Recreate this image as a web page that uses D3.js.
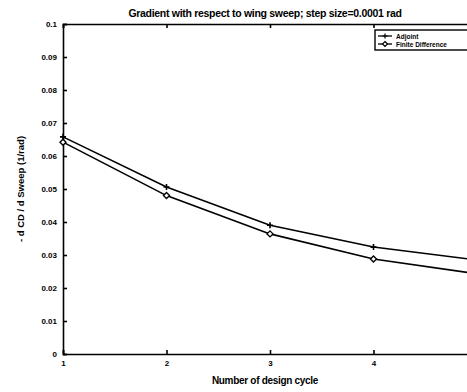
<!DOCTYPE html>
<html>
<head>
<meta charset="utf-8">
<script src="https://cdn.jsdelivr.net/npm/d3@7"></script>
<style>
  body { margin: 0; background: #fff; }
  svg { font-family: "Liberation Sans", Arial, sans-serif; font-weight: bold; }
  .axis path, .axis line { stroke: #000; stroke-width: 1.6; }
  .axis text { font-size: 8px; fill: #000; }
</style>
</head>
<body>
<div id="host"></div>
<script>
// design cycles and gradient values
const cycles = [1, 2, 3, 4, 5];
const adjoint = [0.0658, 0.0506, 0.0390, 0.0324, 0.0285];
const finiteDiff = [0.0642, 0.0480, 0.0364, 0.0288, 0.0243];
const yTicks = [0, 0.01, 0.02, 0.03, 0.04, 0.05, 0.06, 0.07, 0.08, 0.09, 0.1];
const xTicks = [1, 2, 3, 4];

const width = 467, height = 392;
const margin = { top: 24, right: -10, bottom: 38, left: 63 };
const w = width - margin.left - margin.right;
const h = height - margin.top - margin.bottom;

const svg = d3.select('#host').append('svg')
  .attr('width', width).attr('height', height);

const g = svg.append('g').attr('transform', `translate(${margin.left},${margin.top})`);

const x = d3.scaleLinear().domain([1, 5]).range([0, w]);
const y = d3.scaleLinear().domain([0, 0.1]).range([h, 0]);

// frame + ticks
g.append('g').attr('class', 'axis').attr('transform', `translate(0,${h})`)
  .call(d3.axisBottom(x).tickValues(xTicks).tickSize(-4).tickPadding(6).tickFormat(d3.format('d')));
g.append('g').attr('class', 'axis')
  .call(d3.axisTop(x).tickValues(xTicks).tickSize(-4).tickFormat(''));
g.append('g').attr('class', 'axis')
  .call(d3.axisLeft(y).tickValues(yTicks).tickSize(-4).tickPadding(6).tickFormat(d => d === 0 ? '0' : d3.format('.2~f')(d)));

const line = d3.line().x((d, i) => x(cycles[i])).y(d => y(d));

g.append('path').datum(adjoint).attr('d', line)
  .attr('fill', 'none').attr('stroke', '#000').attr('stroke-width', 1.6);
g.append('path').datum(finiteDiff).attr('d', line)
  .attr('fill', 'none').attr('stroke', '#000').attr('stroke-width', 1.6);

// markers
g.selectAll('.m-adj').data(adjoint).enter().append('path')
  .attr('class', 'm-adj')
  .attr('transform', (d, i) => `translate(${x(cycles[i])},${y(d)})`)
  .attr('d', 'M-3,0H3M0,-3V3')
  .attr('stroke', '#000').attr('stroke-width', 1.6);
g.selectAll('.m-fd').data(finiteDiff).enter().append('path')
  .attr('class', 'm-fd')
  .attr('transform', (d, i) => `translate(${x(cycles[i])},${y(d)})`)
  .attr('d', 'M0,-3L3,0L0,3L-3,0Z')
  .attr('fill', '#fff').attr('stroke', '#000').attr('stroke-width', 1.4);

// legend
const lg = svg.append('g').attr('transform', 'translate(375,30)');
lg.append('rect').attr('width', 100).attr('height', 20)
  .attr('fill', '#fff').attr('stroke', '#000').attr('stroke-width', 1.4);
const entries = [
  { label: 'Adjoint', d: 'M-2.5,0H2.5M0,-2.5V2.5', fill: 'none' },
  { label: 'Finite Difference', d: 'M0,-2.5L2.5,0L0,2.5L-2.5,0Z', fill: '#fff' },
];
entries.forEach((e, i) => {
  const yy = 6 + i * 8;
  lg.append('line').attr('x1', 3).attr('x2', 17).attr('y1', yy).attr('y2', yy)
    .attr('stroke', '#000').attr('stroke-width', 1.3);
  lg.append('path').attr('transform', `translate(10,${yy})`).attr('d', e.d)
    .attr('fill', e.fill).attr('stroke', '#000').attr('stroke-width', 1.2);
  lg.append('text').attr('x', 21).attr('y', yy + 2.5).attr('font-size', 6.5).text(e.label);
});

// titles
svg.append('text').attr('x', 265).attr('y', 17).attr('text-anchor', 'middle')
  .attr('font-size', 10.5).attr('letter-spacing', -0.3)
  .text('Gradient with respect to wing sweep; step size=0.0001 rad');
svg.append('text').attr('x', 265).attr('y', 384).attr('text-anchor', 'middle')
  .attr('font-size', 10).attr('letter-spacing', -0.3)
  .text('Number of design cycle');
svg.append('text').attr('transform', 'translate(24,189) rotate(-90)')
  .attr('text-anchor', 'middle').attr('font-size', 9.5)
  .text('- d CD / d Sweep (1/rad)');
</script>
</body>
</html>
